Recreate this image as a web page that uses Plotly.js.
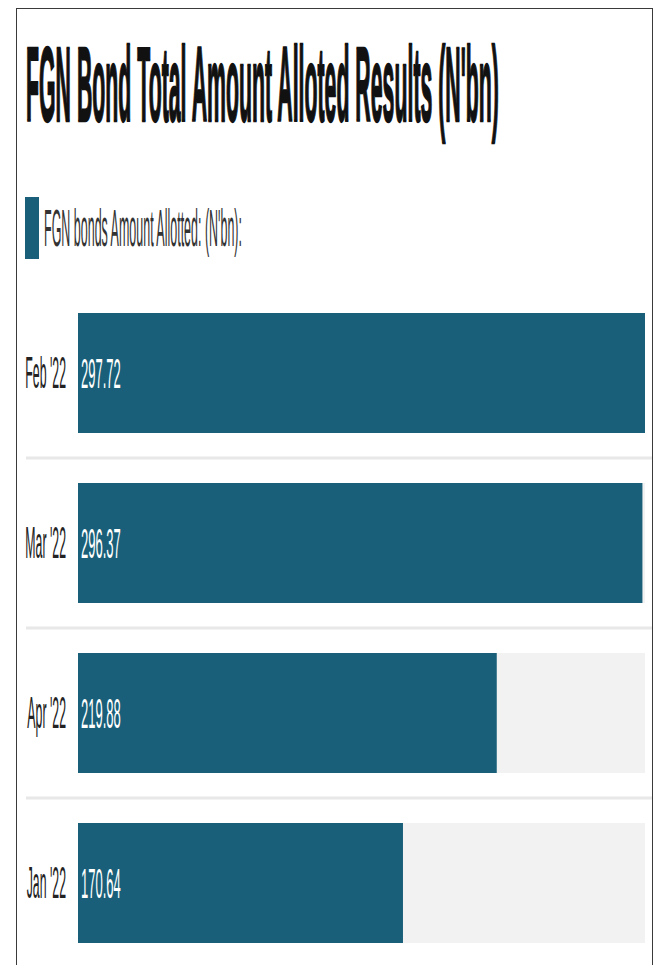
<!DOCTYPE html>
<html>
<head>
<meta charset="utf-8">
<script src="https://cdn.plot.ly/plotly-3.0.1.min.js"></script>
<style>
  html, body { margin: 0; padding: 0; background: #ffffff; overflow: hidden; }
  #wrap { position: relative; width: 664px; height: 965px; overflow: hidden; }
  #frame { position: absolute; left: 16px; top: 8px; width: 637px; height: 1000px;
           border: 1.5px solid #3a3a3a; box-sizing: border-box; pointer-events: none; z-index: 5; }
  #chart { position: absolute; left: 0; top: 0; }
</style>
</head>
<body>
<div id="wrap">
  <div id="chart"></div>
  <div id="frame"></div>
</div>
<script>
// ---- data ----
const categories = ["Feb '22", "Mar '22", "Apr '22", "Jan '22"];
const amounts = [297.72, 296.37, 219.88, 170.64];
const seriesName = "FGN bonds Amount Allotted: (N'bn):";
const chartTitle = "FGN Bond Total Amount Alloted Results (N'bn)";
const axisMax = 297.72;
const valueLabels = ["297.72", "296.37", "219.88", "170.64"];

// ---- styles ----
const BAR = '#1a5f79';
const TRACK = '#f2f2f2';
const FONT = 'Liberation Sans, Arial, sans-serif';
const TITLE_SIZE = 106;

const W = 664, H = 970;
const L = 78, R = 19, T = 288, B = 2;
const plotW = W - L - R, plotH = H - T - B;
const px2xp = px => (px - L) / plotW;
const py2yp = py => (H - B - py) / plotH;

const trackTrace = {
  type: 'bar', orientation: 'h',
  y: categories, x: categories.map(() => axisMax),
  marker: { color: TRACK, line: { width: 0 } },
  hoverinfo: 'skip', showlegend: false, name: 'track'
};
const barTrace = {
  type: 'bar', orientation: 'h',
  y: categories, x: amounts, name: seriesName,
  marker: { color: BAR, line: { width: 0 } },
  text: valueLabels, textposition: 'inside', insidetextanchor: 'start',
  textfont: { family: FONT, size: 42, color: '#ffffff' },
  cliponaxis: false, showlegend: false
};

const shapes = [];
for (let i = 0; i < categories.length - 1; i++) {
  shapes.push({
    type: 'line', xref: 'paper', yref: 'y', layer: 'below',
    x0: px2xp(26), x1: px2xp(652), y0: i + 0.5, y1: i + 0.5,
    line: { color: '#e8e8e8', width: 3 }
  });
}
// legend swatch
shapes.push({
  type: 'rect', xref: 'paper', yref: 'paper',
  x0: px2xp(25), x1: px2xp(39), y0: py2yp(259), y1: py2yp(197),
  fillcolor: BAR, line: { width: 0 }
});

const layout = {
  width: W, height: H,
  margin: { l: L, r: R, t: T, b: B, pad: 0 },
  paper_bgcolor: '#ffffff', plot_bgcolor: '#ffffff',
  barmode: 'overlay', bargap: 50 / 170,
  showlegend: false,
  title: {
    text: chartTitle,
    font: { family: FONT, size: TITLE_SIZE, weight: 'bold', color: '#111111' },
    xref: 'container', x: 26 / W, xanchor: 'left',
    yref: 'container', y: 1 - 30 / H, yanchor: 'top', pad: { t: 0, b: 0, l: 0, r: 0 }
  },
  xaxis: { range: [0, axisMax], visible: false, fixedrange: true },
  yaxis: {
    type: 'category', categoryorder: 'array', categoryarray: categories,
    autorange: 'reversed', showgrid: false, zeroline: false, showline: false,
    ticks: '', ticklabelstandoff: 11,
    tickfont: { family: FONT, size: 44, color: '#222222' }, fixedrange: true
  },
  shapes: shapes,
  annotations: [{
    xref: 'paper', yref: 'paper', x: px2xp(42), y: py2yp(228),
    xanchor: 'left', yanchor: 'middle', showarrow: false,
    text: seriesName, font: { family: FONT, size: 51, color: '#333333' }
  }]
};

// horizontally condense a rendered text element around one of its edges
function squeeze(el, f, side, dy) {
  const bb = el.getBBox();
  const ax = side === 'start' ? bb.x : (side === 'end' ? bb.x + bb.width : bb.x + bb.width / 2);
  const tr = el.getAttribute('transform') || '';
  el.setAttribute('transform', 'translate(0,' + (dy || 0) + ') ' + tr +
    ' translate(' + ax + ',0) scale(' + f + ',1) translate(' + (-ax) + ',0)');
}

Plotly.newPlot('chart', [trackTrace, barTrace], layout, { staticPlot: true, displayModeBar: false })
  .then(gd => {
    const t = gd.querySelector('.gtitle');
    if (t) {
      const bb = t.getBBox();
      const baseline = bb.y + 0.905 * TITLE_SIZE;
      squeeze(t, 473 / bb.width, 'start', 121 - baseline);
      t.style.stroke = '#111111';
      t.style.strokeWidth = '1.8px';
      t.style.vectorEffect = 'non-scaling-stroke';
    }
    gd.querySelectorAll('.annotation-text').forEach(a => squeeze(a, 198 / a.getBBox().width, 'start'));
    gd.querySelectorAll('.ytick text').forEach(y => squeeze(y, 0.28, 'end'));
    gd.querySelectorAll('.bartext').forEach(b => squeeze(b, 0.31, 'start'));
  });
</script>
</body>
</html>
